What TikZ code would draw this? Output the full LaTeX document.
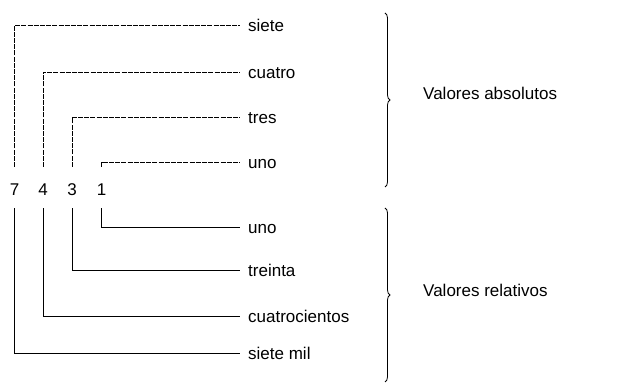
\documentclass[tikz,border=0pt]{standalone}
\usepackage{fontspec}
\setmainfont{Liberation Sans}
\usetikzlibrary{decorations.pathreplacing}

\tikzset{
  digit/.style={inner sep=0pt, font=\fontsize{17}{20}\selectfont},
  numword/.style={anchor=west, inner xsep=8pt, inner ysep=0pt,
    text height=14pt, text depth=0pt, font=\fontsize{17}{20}\selectfont},
  absline/.style={line width=0.8pt, dash pattern=on 5pt off 1.2pt},
  relline/.style={line width=0.8pt},
  bracket/.style={line width=0.8pt, decorate,
    decoration={brace, amplitude=5pt}},
}

\begin{document}
\begin{tikzpicture}[x=1pt, y=1pt]
    \useasboundingbox (0, 0) rectangle (619, 390);

    % the number
    \foreach \d/\x in {7/14.5, 4/43, 3/72, 1/101.5} {
      \node[digit] (d\d) at (\x, 200) {\d};
    }

    % what each figure says by itself
    \foreach \n/\t/\y in {siete/siete/365, cuatro/cuatro/318,
                          tres/tres/273, uno/uno/228} {
      \node[numword] (\n) at (240, \y) {\t};
    }
    % what it is worth in its place
    \foreach \n/\t/\y in {unidad/uno/163, treinta/treinta/120,
                          cuatrocientos/cuatrocientos/74,
                          sietemil/siete mil/37} {
      \node[numword] (\n) at (240, \y) {\t};
    }

    \foreach \d/\n in {7/siete, 4/cuatro, 3/tres, 1/uno} {
      \draw[absline] (d\d.north) ++(0, 17) |- (\n.west);
    }
    \foreach \d/\n in {7/sietemil, 4/cuatrocientos, 3/treinta, 1/unidad} {
      \draw[relline] (d\d.south) ++(0, -12) |- (\n.west);
    }

    \coordinate (abstop) at (385, 377);
    \coordinate (absbot) at (385, 203);
    \coordinate (reltop) at (385, 182);
    \coordinate (relbot) at (385, 8);

    \draw[bracket] (abstop) -- (absbot);
    \draw[bracket] (reltop) -- (relbot);

    \node[numword, inner xsep=0pt] (absolutos) at (423, 297) {Valores absolutos};
    \node[numword, inner xsep=0pt] (relativos) at (423, 100) {Valores relativos};
  \end{tikzpicture}
\end{document}
